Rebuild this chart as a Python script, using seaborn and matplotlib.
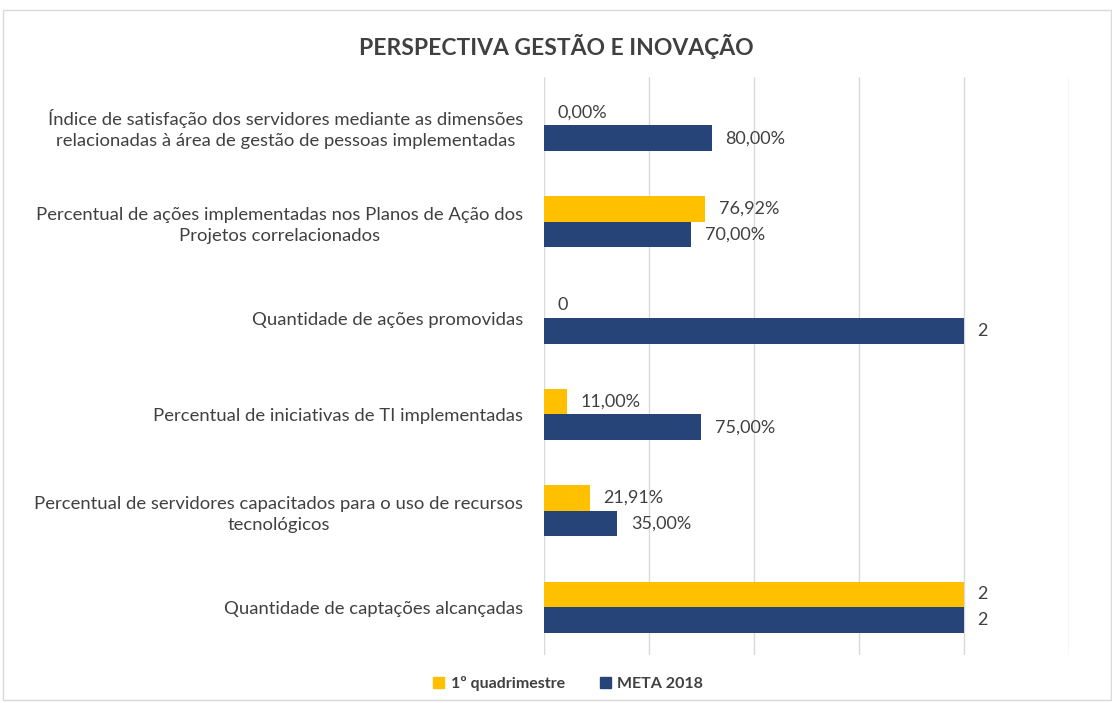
import pandas as pd
import matplotlib.pyplot as plt
import seaborn as sns
from matplotlib.patches import Rectangle

# dados do gráfico
indicadores = [
    "Índice de satisfação dos servidores mediante as dimensões\nrelacionadas à área de gestão de pessoas implementadas",
    "Percentual de ações implementadas nos Planos de Ação dos\nProjetos correlacionados",
    "Quantidade de ações promovidas",
    "Percentual de iniciativas de TI implementadas",
    "Percentual de servidores capacitados para o uso de recursos\ntecnológicos",
    "Quantidade de captações alcançadas",
]
quadrimestre = [0.0, 0.7692, 0, 0.11, 0.2191, 2]
meta_2018 = [0.80, 0.70, 2, 0.75, 0.35, 2]
eh_percentual = [True, True, False, True, True, False]
series = ["1º quadrimestre", "META 2018"]
cores = ["#FFC000", "#264478"]

df = pd.DataFrame({
    "indicador": indicadores * 2,
    "valor": quadrimestre + meta_2018,
    "serie": [series[0]] * 6 + [series[1]] * 6,
})

sns.set_style("white")
plt.rcParams["font.family"] = ["Lato", "DejaVu Sans"]
cinza = "#404040"

fig = plt.figure(figsize=(11.12, 7.03), dpi=100)
ax = fig.add_axes([0.489, 0.068, 0.472, 0.822])

sns.barplot(data=df, y="indicador", x="valor", hue="serie", orient="h",
            palette=cores, width=0.53, gap=0, saturation=1, linewidth=0, ax=ax)


def fmt(v, pct):
    if pct:
        return f"{v * 100:.2f}%".replace(".", ",")
    return f"{v:.0f}"


for cont, vals in zip(ax.containers, [quadrimestre, meta_2018]):
    ax.bar_label(cont, labels=[fmt(v, p) for v, p in zip(vals, eh_percentual)],
                 padding=10, fontsize=13, color=cinza)

ax.set_xlim(0, 2.5)
ax.set_xticks([0, 0.5, 1, 1.5, 2, 2.5])
ax.set_xticklabels([])
ax.tick_params(axis="both", length=0)
ax.grid(axis="x", color="#D9D9D9", linewidth=1)
ax.set_axisbelow(True)
for s in ax.spines.values():
    s.set_visible(False)
ax.set_xlabel("")
ax.set_ylabel("")
ax.set_yticks(range(len(indicadores)))
ax.set_yticklabels(indicadores, fontsize=13.3, color=cinza, multialignment="center",
                   linespacing=1.35)
ax.tick_params(axis="y", pad=15)

ax.get_legend().remove()
handles = [Rectangle((0, 0), 1, 1, color=c) for c in cores]
fig.legend(handles, series, loc="center", bbox_to_anchor=(0.511, 0.028), ncol=2,
           frameon=False, prop={"weight": "bold", "size": 11.5}, labelcolor=cinza,
           handlelength=0.7, handleheight=0.7, columnspacing=2.2, handletextpad=0.4)

fig.text(0.5, 0.934, "PERSPECTIVA GESTÃO E INOVAÇÃO", ha="center", va="center",
         fontsize=16.5, fontweight="bold", color=cinza)

fig.patches.append(Rectangle((0.003, 0.004), 0.996, 0.982, transform=fig.transFigure,
                             fill=False, edgecolor="#D9D9D9", linewidth=1))

fig.savefig("out.png", dpi=100)
